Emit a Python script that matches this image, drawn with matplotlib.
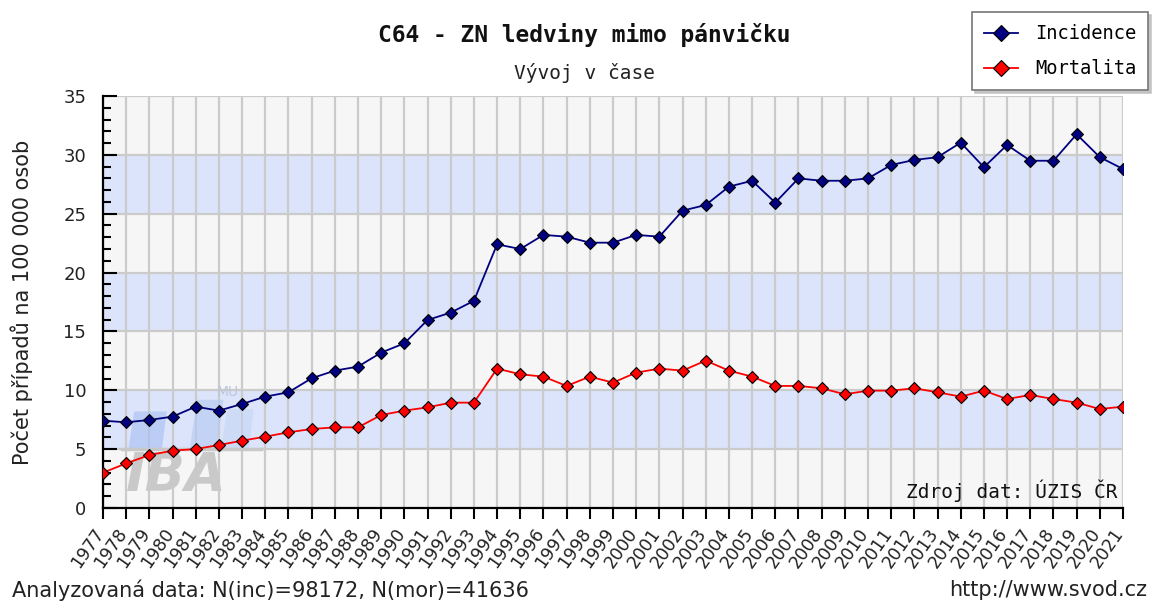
import matplotlib
matplotlib.use("Agg")
import matplotlib.pyplot as plt
import matplotlib.transforms as mtransforms
from matplotlib.patches import Polygon
import numpy as np

years = list(range(1977, 2022))
incidence = [7.42, 7.28, 7.48, 7.76, 8.61, 8.27, 8.84, 9.46, 9.83, 11.02,
             11.67, 12.01, 13.20, 13.99, 15.97, 16.60, 17.60, 22.40, 22.00, 23.20,
             23.05, 22.54, 22.54, 23.20, 23.05, 25.26, 25.74, 27.30, 27.80, 25.94,
             28.00, 27.80, 27.80, 28.00, 29.14, 29.57, 29.80, 31.04, 28.95, 30.84,
             29.50, 29.50, 31.75, 29.80, 28.80]
mortality = [3.00, 3.79, 4.50, 4.87, 5.01, 5.35, 5.72, 6.06, 6.43, 6.71,
             6.85, 6.85, 7.90, 8.27, 8.55, 8.95, 8.95, 11.84, 11.36, 11.16,
             10.37, 11.16, 10.65, 11.50, 11.84, 11.67, 12.52, 11.67, 11.16, 10.37,
             10.37, 10.17, 9.66, 9.97, 9.97, 10.17, 9.83, 9.46, 9.97, 9.26,
             9.60, 9.26, 8.95, 8.41, 8.61]
year_labels = [str(y) for y in years]
series_names = ["Incidence", "Mortalita"]
title = "C64 - ZN ledviny mimo pánvičku"
subtitle = "Vývoj v čase"
ylabel = "Počet případů na 100 000 osob"

W, H = 1157, 601
fig = plt.figure(figsize=(W / 100, H / 100), dpi=100)
fig.patch.set_facecolor("white")

L, R, T, B = 103, 1123, 96, 508
ax = fig.add_axes([L / W, 1 - B / H, (R - L) / W, (B - T) / H])
ax.set_xlim(1977, 2021)
ax.set_ylim(0, 35)
ax.set_facecolor("#f6f6f6")

# alternating bands
for lo in range(0, 35, 5):
    col = "#dce4fb" if (lo // 5) % 2 == 1 else "#f6f6f6"
    ax.axhspan(lo, lo + 5, color=col, zorder=0, lw=0)

# grid
for y in years:
    ax.axvline(y, color="#cbcbcb", lw=1.6, zorder=0.5)
for v in range(5, 36, 5):
    ax.axhline(v, color="#cbcbcb", lw=1.6, zorder=0.5)

# watermark logo (IBA MU)
ax.add_patch(Polygon([(1978.1, 5.1), (1979.55, 5.1), (1979.75, 8.2), (1978.35, 8.2)],
                     closed=True, color="#a6bff0", alpha=0.6, lw=0, zorder=0.6))
ax.add_patch(Polygon([(1980.75, 5.1), (1981.9, 5.1), (1982.2, 9.2), (1981.05, 9.2)],
                     closed=True, color="#b3c9f2", alpha=0.6, lw=0, zorder=0.6))
ax.add_patch(Polygon([(1982.1, 5.1), (1983.3, 5.1), (1983.5, 8.4), (1982.35, 8.4)],
                     closed=True, color="#c3d4f5", alpha=0.55, lw=0, zorder=0.6))
ax.plot([1977.8, 1983.8], [5.0, 5.0], color="#c8c8c8", lw=2.5, zorder=0.6)
ax.text(1978.0, 0.55, "IBA", fontsize=38, fontweight="bold", fontstyle="italic",
        color="#c9c9c9", ha="left", va="bottom", zorder=0.7, family="DejaVu Sans")
ax.text(1981.9, 9.3, "MU", fontsize=10, color="#bcc6d8", ha="left", va="bottom", zorder=0.7)

ax.plot(years, incidence, color="#000080", lw=1.3, marker="D", markersize=6,
        markerfacecolor="#000080", markeredgecolor="black", markeredgewidth=0.8,
        zorder=3, label=series_names[0])
ax.plot(years, mortality, color="#ff0000", lw=1.3, marker="D", markersize=6,
        markerfacecolor="#ff0000", markeredgecolor="black", markeredgewidth=0.8,
        zorder=3, label=series_names[1])

# spines
for s in ["top", "right"]:
    ax.spines[s].set_visible(False)
ax.spines["left"].set_color("black")
ax.spines["bottom"].set_color("black")
ax.spines["left"].set_linewidth(1.6)
ax.spines["bottom"].set_linewidth(1.6)

ax.set_yticks(range(0, 36, 5))
ax.set_yticks(range(0, 36, 1), minor=True)
ax.tick_params(axis="y", which="major", direction="in", length=10, width=1.5,
               labelsize=13, pad=12, colors="black")
ax.tick_params(axis="y", which="minor", direction="in", length=6, width=1.5)
for lab in ax.get_yticklabels():
    lab.set_color("#222222")

ax.set_xticks(years)
ax.set_xticklabels(year_labels, rotation=55, ha="right", va="top",
                   rotation_mode="anchor", fontsize=12.5, color="#222222")
ax.tick_params(axis="x", which="major", direction="out", length=8, width=1.5, pad=4)
offset = mtransforms.ScaledTranslation(-10 / 100, 0, fig.dpi_scale_trans)
for lab in ax.get_xticklabels():
    lab.set_transform(lab.get_transform() + offset)

ax.set_ylabel(ylabel, fontsize=15, color="#222222")
ax.yaxis.set_label_coords(-(103 - 33) / (R - L), 0.5)

# source text inside
ax.text(0.995, 0.015, "Zdroj dat: ÚZIS ČR", transform=ax.transAxes, ha="right",
        va="bottom", fontsize=14, family="DejaVu Sans Mono", color="#111111", zorder=4)

# titles
fig.text(584 / W, 1 - 35 / H, title, ha="center", va="center", fontsize=16.5,
         fontweight="bold", family="DejaVu Sans Mono", color="#111111")
fig.text(584 / W, 1 - 73 / H, subtitle, ha="center", va="center", fontsize=14,
         family="DejaVu Sans Mono", color="#222222")

# footer texts
fig.text(12 / W, 1 - 590 / H, "Analyzovaná data: N(inc)=98172, N(mor)=41636",
         ha="left", va="center", fontsize=15, color="#222222")
fig.text(1147 / W, 1 - 590 / H, "http://www.svod.cz", ha="right", va="center",
         fontsize=15, color="#222222")

# legend
leg = fig.legend(loc="upper left", bbox_to_anchor=(972 / W, 1 - 12 / H),
                 bbox_transform=fig.transFigure, frameon=True, fancybox=False,
                 shadow={"color": "#bbbbbb", "alpha": 0.8},
                 prop={"family": "DejaVu Sans Mono", "size": 13.5},
                 handlelength=1.8, handletextpad=0.9, labelspacing=0.85,
                 borderpad=0.65, borderaxespad=0, markerscale=1.3)
leg.get_frame().set_edgecolor("#777777")
leg.get_frame().set_linewidth(1.2)

fig.savefig("out.png", dpi=100)
